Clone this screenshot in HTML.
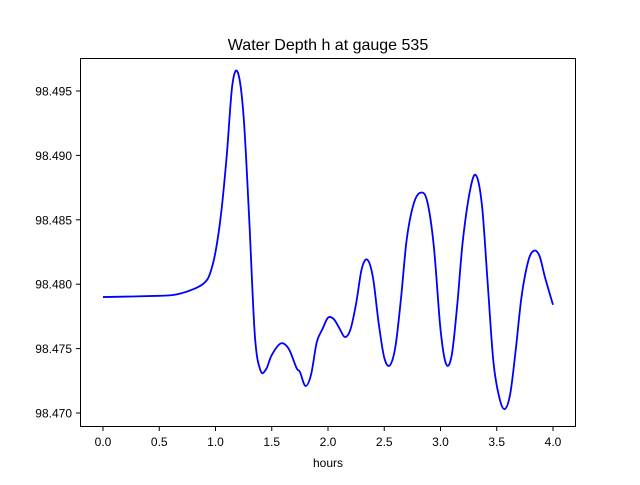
<!DOCTYPE html>
<html><head><meta charset="utf-8"><style>
body{margin:0;background:#fff;font-family:"Liberation Sans","DejaVu Sans",sans-serif;}
</style></head><body>
<svg id="chart" width="640" height="480" viewBox="0 0 640 480">
<rect width="640" height="480" fill="#fff"/>
<text x="328" y="50" font-size="16" text-anchor="middle">Water Depth h at gauge 535</text>
<g id="ticks"></g>
<path id="line" fill="none" stroke="#0000ff" stroke-width="1.8"/>
<rect x="80.5" y="58.5" width="495" height="368" fill="none" stroke="#000" stroke-width="1"/>
<text x="328" y="467" font-size="12" text-anchor="middle">hours</text>
</svg>
<script>
const times=[0,0.5,0.65,0.8,0.9,0.95,1.0,1.05,1.1,1.15,1.2,1.25,1.3,1.35,1.4,1.45,1.5,1.58,1.65,1.72,1.75,1.8,1.85,1.9,1.95,2.0,2.05,2.1,2.15,2.2,2.25,2.3,2.35,2.4,2.45,2.5,2.55,2.6,2.65,2.7,2.76,2.82,2.88,2.94,3.0,3.05,3.1,3.15,3.2,3.27,3.32,3.37,3.42,3.47,3.52,3.57,3.62,3.67,3.72,3.78,3.83,3.88,3.93,4.0];
const depths=[98.4790,98.4791,98.4792,98.4796,98.4801,98.4808,98.4825,98.4855,98.4900,98.4955,98.4964,98.4930,98.4850,98.4760,98.4733,98.4734,98.4745,98.4754,98.4750,98.4735,98.4732,98.4721,98.4730,98.4755,98.4765,98.4774,98.4773,98.4766,98.4759,98.4765,98.4785,98.4812,98.4819,98.4805,98.4770,98.4743,98.4737,98.4752,98.4790,98.4835,98.4862,98.4871,98.4865,98.4830,98.4765,98.4738,98.4745,98.4785,98.4835,98.4876,98.4884,98.4860,98.4800,98.4740,98.4713,98.4703,98.4715,98.4750,98.4790,98.4818,98.4826,98.4822,98.4805,98.4784];
const xTicks=[0,0.5,1,1.5,2,2.5,3,3.5,4];
const xTickLabels=["0.0","0.5","1.0","1.5","2.0","2.5","3.0","3.5","4.0"];
const yTicks=[98.470,98.475,98.480,98.485,98.490,98.495];
const yTickLabels=["98.470","98.475","98.480","98.485","98.490","98.495"];
const X=t=>103+t*112.5;
const Y=h=>413-(h-98.470)*12880;
const ns="http://www.w3.org/2000/svg";
const g=document.getElementById('ticks');
xTicks.forEach((t,i)=>{
 const l=document.createElementNS(ns,'line');
 
 
 l.setAttribute('x1',X(t));l.setAttribute('x2',X(t));l.setAttribute('y1',427);l.setAttribute('y2',431);l.setAttribute('stroke','#000');
 g.appendChild(l);
 const tx=document.createElementNS(ns,'text');
 
 
 tx.setAttribute('x',X(t));tx.setAttribute('y',446);tx.setAttribute('font-size','12');tx.setAttribute('text-anchor','middle');
 tx.textContent=xTickLabels[i];g.appendChild(tx);
});
yTicks.forEach((v,i)=>{
 const l=document.createElementNS(ns,'line');
 
 
 l.setAttribute('x1',76);l.setAttribute('x2',80);l.setAttribute('y1',Y(v));l.setAttribute('y2',Y(v));l.setAttribute('stroke','#000');
 g.appendChild(l);
 const tx=document.createElementNS(ns,'text');
 
 
 tx.setAttribute('x',72);tx.setAttribute('y',Y(v)+4.5);tx.setAttribute('font-size','12');tx.setAttribute('text-anchor','end');
 tx.textContent=yTickLabels[i];g.appendChild(tx);
});
// Catmull-Rom smoothing
const P=times.map((t,i)=>[X(t),Y(depths[i])]);
let d='M'+P[0][0]+','+P[0][1];
for(let i=0;i<P.length-1;i++){
 const p0=P[Math.max(0,i-1)],p1=P[i],p2=P[i+1],p3=P[Math.min(P.length-1,i+2)];
 const c1=[p1[0]+(p2[0]-p0[0])/6,p1[1]+(p2[1]-p0[1])/6];
 const c2=[p2[0]-(p3[0]-p1[0])/6,p2[1]-(p3[1]-p1[1])/6];
 d+=' C'+c1+' '+c2+' '+p2;
}
document.getElementById('line').setAttribute('d',d);
</script>
</body></html>
